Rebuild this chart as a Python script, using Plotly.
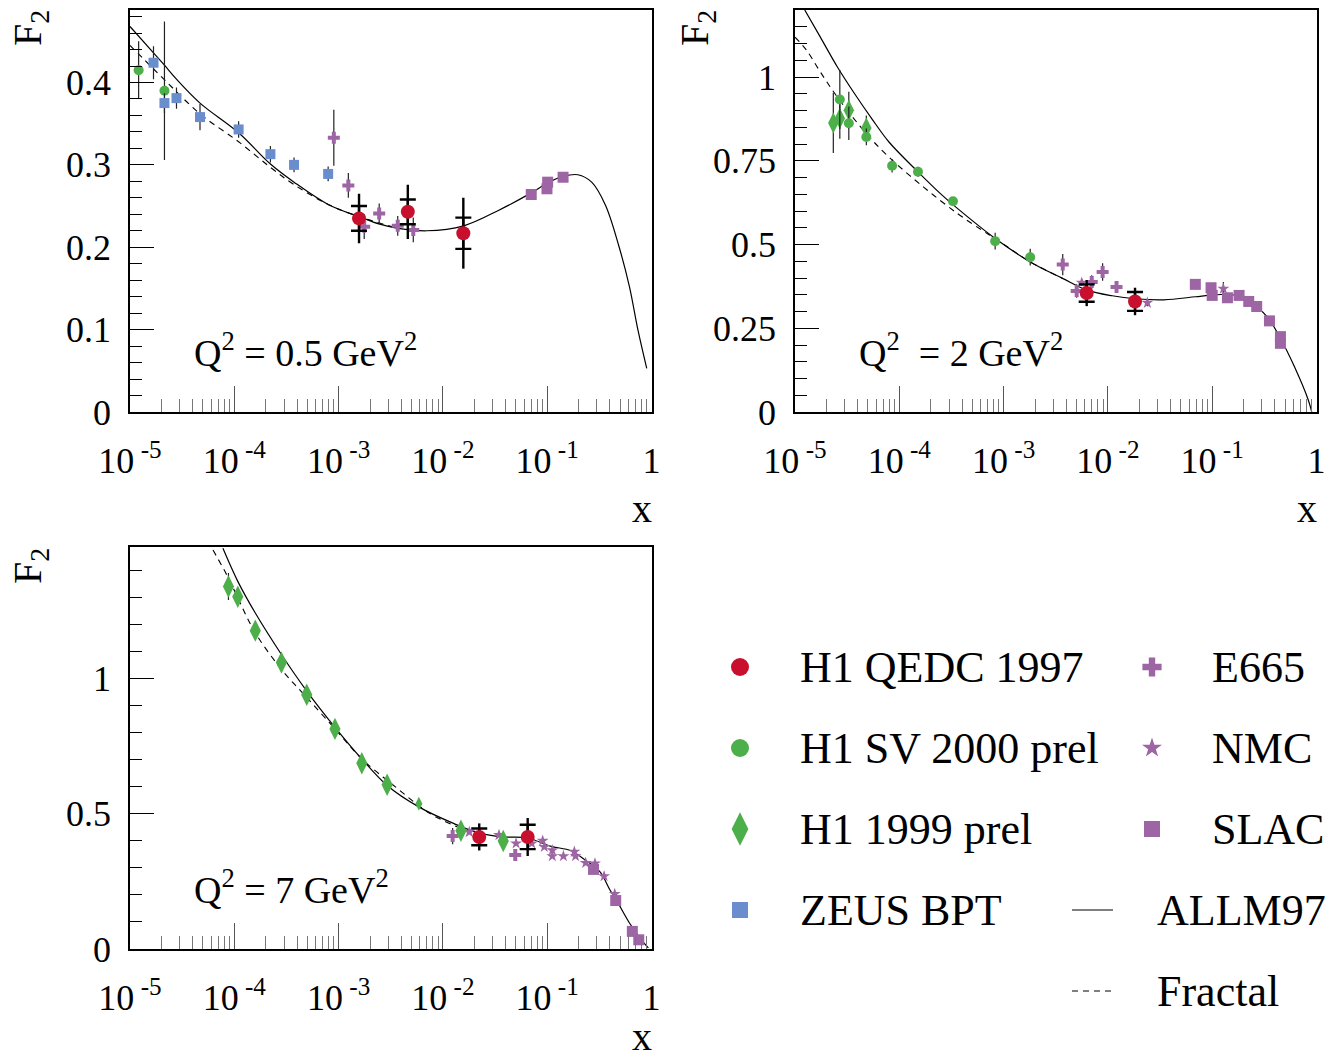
import plotly.graph_objects as go

FONT = "Liberation Serif"
RED = "#C8102E"
GREEN = "#4DAF4A"
BLUE = "#6A8DCD"
PURPLE = "#9E65A5"
W, H = 1332, 1062

# ---------------- data: panel 1, Q2 = 0.5 GeV2 ----------------
p1_qedc_x = [1.57e-3, 4.61e-3, 0.0157]
p1_qedc_y = [0.235, 0.243, 0.217]
p1_qedc_stat = [0.015, 0.015, 0.019]
p1_qedc_tot = [0.030, 0.033, 0.043]
p1_sv_x = [1.21e-5, 2.14e-5]
p1_sv_y = [0.415, 0.390]
p1_sv_err = [0.035, 0.084]
p1_zeus_x = [1.68e-5, 2.14e-5, 2.79e-5, 4.69e-5, 1.10e-4, 2.22e-4, 3.74e-4, 7.94e-4]
p1_zeus_y = [0.424, 0.375, 0.381, 0.358, 0.343, 0.313, 0.300, 0.289]
p1_zeus_err = [0.020, 0.012, 0.013, 0.016, 0.010, 0.010, 0.009, 0.009]
p1_e665_x = [9.0e-4, 1.24e-3, 1.76e-3, 2.45e-3, 3.69e-3, 5.2e-3]
p1_e665_y = [0.333, 0.275, 0.225, 0.241, 0.226, 0.221]
p1_e665_err = [0.034, 0.015, 0.015, 0.012, 0.012, 0.015]
p1_slac_x = [0.0703, 0.0995, 0.101, 0.142]
p1_slac_y = [0.264, 0.271, 0.279, 0.285]
p1_allm_x = [1.0e-5, 1.68e-5, 2.14e-5, 2.79e-5, 4.69e-5, 1.10e-4, 2.22e-4, 3.74e-4,
             7.94e-4, 1.58e-3, 2.48e-3, 3.70e-3, 7.0e-3, 0.0158, 0.0344, 0.0703,
             0.1005, 0.142, 0.197, 0.267, 0.362, 0.490, 0.615, 0.743, 0.90]
p1_allm_y = [0.468, 0.436, 0.421, 0.404, 0.375, 0.339, 0.301, 0.279,
             0.252, 0.237, 0.228, 0.223, 0.220, 0.226, 0.245, 0.266,
             0.278, 0.286, 0.288, 0.279, 0.251, 0.200, 0.152, 0.099, 0.053]
p1_frac_x = [1.0e-5, 1.29e-5, 2.19e-5, 4.69e-5, 1.10e-4, 2.22e-4, 3.74e-4, 7.94e-4, 1.58e-3, 3.70e-3]
p1_frac_y = [0.445, 0.431, 0.402, 0.362, 0.328, 0.297, 0.276, 0.252, 0.237, 0.223]

# ---------------- data: panel 2, Q2 = 2 GeV2 ----------------
p2_qedc_x = [6.26e-3, 0.0182]
p2_qedc_y = [0.355, 0.330]
p2_qedc_stat = [0.026, 0.028]
p2_qedc_tot = [0.039, 0.041]
p2_sv_x = [2.69e-5, 3.28e-5, 4.83e-5, 8.53e-5, 1.51e-4, 3.27e-4, 8.30e-4, 1.80e-3]
p2_sv_y = [0.933, 0.862, 0.821, 0.735, 0.717, 0.629, 0.510, 0.462]
p2_sv_err = [0.088, 0.050, 0.025, 0.020, 0.015, 0.012, 0.025, 0.025]
p2_h199_x = [2.33e-5, 2.69e-5, 3.28e-5, 4.83e-5]
p2_h199_y = [0.863, 0.876, 0.901, 0.848]
p2_h199_err = [0.090, 0.060, 0.055, 0.037]
p2_e665_x = [3.69e-3, 5.02e-3, 7.0e-3, 8.9e-3, 0.0121]
p2_e665_y = [0.440, 0.361, 0.388, 0.418, 0.373]
p2_e665_err = [0.032, 0.020, 0.020, 0.026, 0.015]
p2_nmc_x = [5.61e-3, 0.0239, 0.128]
p2_nmc_y = [0.386, 0.326, 0.368]
p2_nmc_err = [0.010, 0.010, 0.020]
p2_slac_x = [0.0689, 0.0975, 0.100, 0.140, 0.181, 0.224, 0.267, 0.354, 0.451, 0.451]
p2_slac_y = [0.381, 0.371, 0.348, 0.341, 0.348, 0.330, 0.315, 0.272, 0.225, 0.205]
p2_allm_x = [1.24e-5, 1.75e-5, 2.55e-5, 3.73e-5, 5.44e-5, 7.96e-5, 1.51e-4, 2.48e-4,
             3.63e-4, 8.30e-4, 1.80e-3, 3.67e-3, 6.29e-3, 0.0110, 0.0183, 0.0344,
             0.0692, 0.0995, 0.157, 0.226, 0.335, 0.454, 0.615, 0.834, 0.90]
p2_allm_y = [1.200, 1.119, 1.030, 0.950, 0.876, 0.806, 0.717, 0.652,
             0.607, 0.518, 0.448, 0.399, 0.364, 0.347, 0.338, 0.335,
             0.344, 0.349, 0.350, 0.329, 0.285, 0.218, 0.135, 0.036, 0.0]
p2_frac_x = [1.0e-5, 1.29e-5, 1.75e-5, 2.55e-5, 4.83e-5, 7.96e-5, 1.70e-4, 3.63e-4,
             6.18e-4, 8.30e-4, 1.80e-3, 3.67e-3]
p2_frac_y = [1.119, 1.080, 1.015, 0.940, 0.831, 0.761, 0.672, 0.592,
             0.543, 0.518, 0.448, 0.399]

# ---------------- data: panel 3, Q2 = 7 GeV2 ----------------
p3_qedc_x = [0.0223, 0.065]
p3_qedc_y = [0.414, 0.414]
p3_qedc_stat = [0.031, 0.045]
p3_qedc_tot = [0.050, 0.070]
p3_h199_x = [8.79e-5, 1.08e-4, 1.59e-4, 2.83e-4, 4.95e-4, 9.23e-4, 1.67e-3, 2.92e-3, 0.0149, 0.0379]
p3_h199_y = [1.339, 1.301, 1.176, 1.058, 0.939, 0.813, 0.686, 0.607, 0.437, 0.399]
p3_h199_err = [0.050, 0.030, 0.020, 0.020, 0.015, 0.015, 0.015, 0.015, 0.020, 0.015]
p3_h199s_x = [5.88e-3]
p3_h199s_y = [0.537]
p3_e665_x = [0.0124, 0.0494]
p3_e665_y = [0.417, 0.347]
p3_e665_err = [0.030, 0.015]
p3_nmc_x = [0.0179, 0.0345, 0.0503, 0.071, 0.0905, 0.0938, 0.112, 0.112, 0.143,
            0.182, 0.187, 0.234, 0.287, 0.351, 0.444]
p3_nmc_y = [0.432, 0.421, 0.390, 0.390, 0.400, 0.377, 0.365, 0.343, 0.343,
            0.359, 0.343, 0.318, 0.316, 0.269, 0.203]
p3_slac_x = [0.278, 0.454, 0.655, 0.755]
p3_slac_y = [0.294, 0.179, 0.065, 0.034]
p3_allm_x = [7.78e-5, 1.08e-4, 1.59e-4, 2.83e-4, 4.95e-4, 9.23e-4, 1.67e-3, 2.92e-3,
             5.87e-3, 0.0128, 0.0223, 0.0377, 0.065, 0.107, 0.169, 0.229, 0.321,
             0.400, 0.454, 0.615, 0.80, 0.933]
p3_allm_y = [1.480, 1.358, 1.241, 1.088, 0.953, 0.819, 0.702, 0.604,
             0.525, 0.463, 0.428, 0.414, 0.410, 0.380, 0.363, 0.330, 0.285,
             0.218, 0.185, 0.096, 0.034, 0.004]
p3_frac_x = [6.25e-5, 8.79e-5, 1.08e-4, 1.59e-4, 2.83e-4, 4.95e-4, 9.23e-4, 1.67e-3,
             3.53e-3, 7.55e-3, 0.0138]
p3_frac_y = [1.474, 1.370, 1.297, 1.168, 1.033, 0.929, 0.813, 0.702,
             0.598, 0.500, 0.451]

# ---------------- axes / labels ----------------
x_tickvals = [1e-5, 1e-4, 1e-3, 1e-2, 1e-1, 1]
x_ticktext = ["10<sup>\u00a0-5</sup>", "10<sup>\u00a0-4</sup>", "10<sup>\u00a0-3</sup>",
              "10<sup>\u00a0-2</sup>", "10<sup>\u00a0-1</sup>", "1"]
p1_ytickvals = [0, 0.1, 0.2, 0.3, 0.4]
p1_yticktext = ["0", "0.1", "0.2", "0.3", "0.4"]
p2_ytickvals = [0, 0.25, 0.5, 0.75, 1]
p2_yticktext = ["0", "0.25", "0.5", "0.75", "1"]
p3_ytickvals = [0, 0.5, 1]
p3_yticktext = ["0", "0.5", "1"]
panel_labels = ["Q<sup>2</sup> = 0.5 GeV<sup>2</sup>",
                "Q<sup>2</sup>  = 2 GeV<sup>2</sup>",
                "Q<sup>2</sup> = 7 GeV<sup>2</sup>"]

legend_left = [("H1 QEDC 1997", "circle", RED, 18),
               ("H1 SV 2000 prel", "circle", GREEN, 18),
               ("H1 1999 prel", "diamond-tall", GREEN, 24),
               ("ZEUS BPT", "square", BLUE, 16)]
legend_right = [("E665", "cross", PURPLE, 16),
                ("NMC", "star", PURPLE, 15),
                ("SLAC", "square", PURPLE, 16)]
legend_lines = [("ALLM97", "solid"), ("Fractal", "6px,5px")]

fig = go.Figure()

ERR = dict(type="data", width=0, thickness=1.2, color="#222222")


def pts(ax, x, y, symbol, color, size, err=None):
    kw = {}
    if err is not None:
        kw["error_y"] = dict(ERR, array=err)
    fig.add_trace(go.Scatter(x=x, y=y, mode="markers", xaxis="x" + ax, yaxis="y" + ax,
                             marker=dict(symbol=symbol, color=color, size=size, line=dict(width=0)),
                             cliponaxis=False, showlegend=False, hoverinfo="skip", **kw))


def qedc(ax, x, y, stat, tot):
    fig.add_trace(go.Scatter(x=x, y=y, mode="markers", xaxis="x" + ax, yaxis="y" + ax,
                             marker=dict(size=1, color="rgba(0,0,0,0)"),
                             error_y=dict(type="data", array=tot, width=0, thickness=2.4, color="black"),
                             showlegend=False, hoverinfo="skip"))
    fig.add_trace(go.Scatter(x=x, y=y, mode="markers", xaxis="x" + ax, yaxis="y" + ax,
                             marker=dict(size=1, color="rgba(0,0,0,0)"),
                             error_y=dict(type="data", array=stat, width=8, thickness=2.4, color="black"),
                             showlegend=False, hoverinfo="skip"))
    pts(ax, x, y, "circle", RED, 14)


def curves(ax, ax_x, ax_y, fx, fy):
    fig.add_trace(go.Scatter(x=fx, y=fy, mode="lines", xaxis="x" + ax, yaxis="y" + ax,
                             line=dict(color="black", width=1.1, dash="6px,5px", shape="spline", smoothing=1.0),
                             showlegend=False, hoverinfo="skip"))
    fig.add_trace(go.Scatter(x=ax_x, y=ax_y, mode="lines", xaxis="x" + ax, yaxis="y" + ax,
                             line=dict(color="black", width=1.2, shape="spline", smoothing=1.0),
                             showlegend=False, hoverinfo="skip"))


# panel 1
curves("", p1_allm_x, p1_allm_y, p1_frac_x, p1_frac_y)
pts("", p1_sv_x, p1_sv_y, "circle", GREEN, 10, p1_sv_err)
pts("", p1_zeus_x, p1_zeus_y, "square", BLUE, 10, p1_zeus_err)
pts("", p1_e665_x, p1_e665_y, "cross", PURPLE, 10, p1_e665_err)
pts("", p1_slac_x, p1_slac_y, "square", PURPLE, 11)
qedc("", p1_qedc_x, p1_qedc_y, p1_qedc_stat, p1_qedc_tot)

# panel 2
curves("2", p2_allm_x, p2_allm_y, p2_frac_x, p2_frac_y)
pts("2", p2_h199_x, p2_h199_y, "diamond-tall", GREEN, 15, p2_h199_err)
pts("2", p2_sv_x, p2_sv_y, "circle", GREEN, 10, p2_sv_err)
pts("2", p2_e665_x, p2_e665_y, "cross", PURPLE, 10, p2_e665_err)
pts("2", p2_nmc_x, p2_nmc_y, "star", PURPLE, 9, p2_nmc_err)
pts("2", p2_slac_x, p2_slac_y, "square", PURPLE, 11)
qedc("2", p2_qedc_x, p2_qedc_y, p2_qedc_stat, p2_qedc_tot)

# panel 3
curves("3", p3_allm_x, p3_allm_y, p3_frac_x, p3_frac_y)
pts("3", p3_e665_x, p3_e665_y, "cross", PURPLE, 10, p3_e665_err)
pts("3", p3_nmc_x, p3_nmc_y, "star", PURPLE, 9)
pts("3", p3_slac_x, p3_slac_y, "square", PURPLE, 11)
pts("3", p3_h199_x, p3_h199_y, "diamond-tall", GREEN, 16, p3_h199_err)
pts("3", p3_h199s_x, p3_h199s_y, "diamond-tall", GREEN, 10)
qedc("3", p3_qedc_x, p3_qedc_y, p3_qedc_stat, p3_qedc_tot)

# ---------------- legend (own hidden axis) ----------------
LX0, LY0 = 700, 630
rows = [667, 748, 829, 910, 991]
for i, (name, sym, col, sz) in enumerate(legend_left):
    fig.add_trace(go.Scatter(x=[740], y=[rows[i]], mode="markers", xaxis="x4", yaxis="y4",
                             marker=dict(symbol=sym, color=col, size=sz, line=dict(width=0)),
                             showlegend=False, hoverinfo="skip"))
    fig.add_annotation(x=798, y=rows[i], xref="x4", yref="y4", text=name, showarrow=False,
                       xanchor="left", yanchor="middle", font=dict(size=44))
for i, (name, sym, col, sz) in enumerate(legend_right):
    fig.add_trace(go.Scatter(x=[1152], y=[rows[i]], mode="markers", xaxis="x4", yaxis="y4",
                             marker=dict(symbol=sym, color=col, size=sz, line=dict(width=0)),
                             showlegend=False, hoverinfo="skip"))
    fig.add_annotation(x=1210, y=rows[i], xref="x4", yref="y4", text=name, showarrow=False,
                       xanchor="left", yanchor="middle", font=dict(size=44))
for j, (name, dash) in enumerate(legend_lines):
    r = rows[3 + j]
    fig.add_trace(go.Scatter(x=[1072, 1113], y=[r, r], mode="lines", xaxis="x4", yaxis="y4",
                             line=dict(color="black", width=1.1, dash=dash),
                             showlegend=False, hoverinfo="skip"))
    fig.add_annotation(x=1155, y=r, xref="x4", yref="y4", text=name, showarrow=False,
                       xanchor="left", yanchor="middle", font=dict(size=44))

# ---------------- layout ----------------
def xdom(a, b):
    return [a / W, b / W]


def ydom(top, bottom):
    return [1 - bottom / H, 1 - top / H]


def xaxis(dom, anchor):
    return dict(type="log", domain=dom, anchor=anchor, range=[-5, 0], automargin=False,
                tickmode="array", tickvals=x_tickvals, ticktext=x_ticktext,
                ticks="inside", ticklen=26, tickwidth=1, tickcolor="#555555",
                minor=dict(ticks="inside", ticklen=13, tickwidth=1, tickcolor="#777777", dtick="D1"),
                showline=True, mirror=True, linecolor="black", linewidth=1.6,
                showgrid=False, zeroline=False, ticklabelstandoff=16,
                tickfont=dict(size=36, family=FONT, color="black"))


def yaxis(dom, anchor, rng, tv, tt, minor_dtick):
    return dict(domain=dom, anchor=anchor, range=rng, tickmode="array", tickvals=tv, ticktext=tt,
                automargin=False,
                ticks="inside", ticklen=24, tickwidth=1, tickcolor="black",
                minor=dict(ticks="inside", ticklen=12, tickwidth=1, tickcolor="black", dtick=minor_dtick),
                showline=True, mirror=True, linecolor="black", linewidth=1.6,
                showgrid=False, zeroline=False, ticklabelstandoff=10,
                tickfont=dict(size=36, family=FONT, color="black"))


fig.update_layout(
    template="none",
    width=W, height=H, margin=dict(l=0, r=0, t=0, b=0, pad=0),
    paper_bgcolor="white", plot_bgcolor="rgba(0,0,0,0)",
    font=dict(family=FONT, color="black"),
    showlegend=False,
    xaxis=xaxis(xdom(130, 651.5), "y"),
    yaxis=yaxis(ydom(10, 412), "x", [0, 0.488], p1_ytickvals, p1_yticktext, 0.02),
    xaxis2=xaxis(xdom(795, 1316.5), "y2"),
    yaxis2=yaxis(ydom(10, 412), "x2", [0, 1.2], p2_ytickvals, p2_yticktext, 0.05),
    xaxis3=xaxis(xdom(130, 651.5), "y3"),
    yaxis3=yaxis(ydom(547, 949), "x3", [0, 1.485], p3_ytickvals, p3_yticktext, 0.1),
    xaxis4=dict(domain=xdom(LX0, W), anchor="y4", range=[LX0, W], visible=False,
                fixedrange=True, automargin=False),
    yaxis4=dict(domain=ydom(LY0, H), anchor="x4", range=[H, LY0], visible=False,
                fixedrange=True, automargin=False),
)

# panel texts
for (px, py), txt in zip([(192, 350), (857, 350), (192, 887)], panel_labels):
    fig.add_annotation(x=px / W, y=1 - py / H, xref="paper", yref="paper", text=txt,
                       showarrow=False, xanchor="left", yanchor="middle", font=dict(size=38))
for (px, py) in [(30, 28), (697, 28), (30, 566)]:
    fig.add_annotation(x=px / W, y=1 - py / H, xref="paper", yref="paper", text="F<sub>2</sub>",
                       textangle=-90, showarrow=False, xanchor="center", yanchor="middle",
                       font=dict(size=40))
for (px, py) in [(642, 508), (1307, 508), (642, 1036)]:
    fig.add_annotation(x=px / W, y=1 - py / H, xref="paper", yref="paper", text="x",
                       showarrow=False, xanchor="center", yanchor="middle", font=dict(size=40))

fig.write_html("out.html")
